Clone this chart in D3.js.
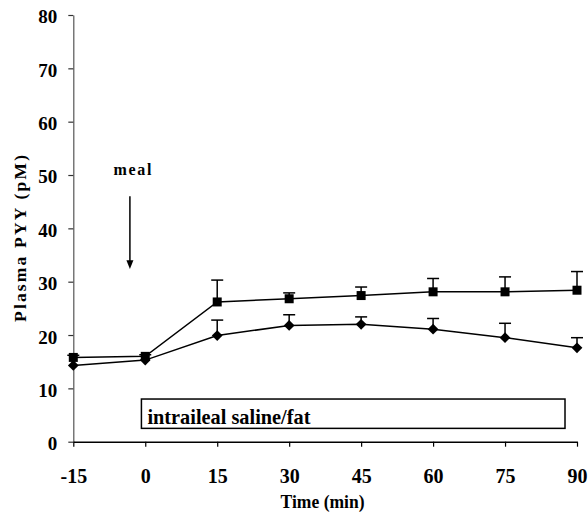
<!DOCTYPE html>
<html>
<head>
<meta charset="utf-8">
<script src="https://cdn.jsdelivr.net/npm/d3@7"></script>
<style>
  html, body { margin: 0; padding: 0; background: #fff; }
  svg { display: block; }
</style>
</head>
<body>
<svg id="chart" width="588" height="524" font-family="Liberation Serif" font-weight="bold"></svg>
<script>
// ---- data ----
const times = [-15, 0, 15, 30, 45, 60, 75, 90];
const fatValues = [15.8, 16.0, 26.2, 26.8, 27.4, 28.1, 28.1, 28.4];
const fatErrors = [0.4, 0.3, 4.1, 1.1, 1.6, 2.5, 2.8, 3.5];
const salineValues = [14.3, 15.3, 19.9, 21.8, 22.0, 21.1, 19.5, 17.6];
const salineErrors = [0, 0, 2.9, 2.0, 1.4, 2.0, 2.7, 1.9];
const xTicks = [-15, 0, 15, 30, 45, 60, 75, 90];
const yTicks = [0, 10, 20, 30, 40, 50, 60, 70, 80];
const mealTime = -3.2;
const infusionStart = -0.8;
const infusionEnd = 87.5;
const infusionBottom = 2.5;
const infusionTop = 8.0;

const FONT = "Liberation Serif";
const svg = d3.select("#chart");
const x = d3.scaleLinear().domain([-15, 90]).range([73.3, 577]);
const y = d3.scaleLinear().domain([0, 80]).range([441.7, 15]);

function styleText(sel) {
  sel.attr("font-family", FONT).attr("font-weight", "bold").attr("fill", "#000")
    .style("font-family", FONT).style("font-weight", "bold");
}

// y axis
const yAxis = svg.append("g").attr("transform", `translate(${x(-15)},0)`)
  .call(d3.axisLeft(y).tickValues(yTicks).tickSize(5).tickPadding(11).tickSizeOuter(0).tickFormat(d => String(d)));
yAxis.attr("font-family", FONT);
yAxis.select(".domain").attr("stroke", "#555").attr("stroke-width", 1.2);
yAxis.selectAll(".tick line").attr("stroke", "#333").attr("stroke-width", 1.2);
yAxis.selectAll(".tick text").attr("font-size", 19).attr("dy", "0.42em").call(styleText);

// x axis
const xAxis = svg.append("g").attr("transform", `translate(0,${y(0)})`)
  .call(d3.axisBottom(x).tickValues(xTicks).tickSize(5).tickPadding(22.5).tickSizeOuter(0).tickFormat(d => String(d)));
xAxis.attr("font-family", FONT);
xAxis.select(".domain").attr("stroke", "#000").attr("stroke-width", 1.5);
xAxis.selectAll(".tick line").attr("stroke", "#000").attr("stroke-width", 1.2);
xAxis.selectAll(".tick text").attr("font-size", 20).attr("dy", "0.71em").call(styleText);

// axis titles
svg.append("text").attr("x", 322.6).attr("y", 508).attr("text-anchor", "middle")
  .attr("font-size", 18).attr("textLength", 84).attr("lengthAdjust", "spacingAndGlyphs")
  .call(styleText).text("Time (min)");
svg.append("text").attr("transform", "translate(26,238.5) rotate(-90)").attr("text-anchor", "middle")
  .attr("font-size", 17.5).attr("textLength", 167).attr("lengthAdjust", "spacing")
  .call(styleText).text("Plasma PYY (pM)");

// infusion box
svg.append("rect")
  .attr("x", x(infusionStart)).attr("y", y(infusionTop))
  .attr("width", x(infusionEnd) - x(infusionStart)).attr("height", y(infusionBottom) - y(infusionTop))
  .attr("fill", "none").attr("stroke", "#000").attr("stroke-width", 1.5);
svg.append("text").attr("x", x(infusionStart) + 6).attr("y", 424)
  .attr("font-size", 21).attr("textLength", 163).attr("lengthAdjust", "spacingAndGlyphs")
  .call(styleText).text("intraileal saline/fat");

// meal arrow
svg.append("text").attr("x", x(mealTime) + 2.5).attr("y", 175).attr("text-anchor", "middle")
  .attr("font-size", 16).attr("textLength", 38).attr("lengthAdjust", "spacing")
  .call(styleText).text("meal");
svg.append("line").attr("x1", x(mealTime)).attr("x2", x(mealTime)).attr("y1", y(46)).attr("y2", y(33.5))
  .attr("stroke", "#000").attr("stroke-width", 1.5);
svg.append("path")
  .attr("d", `M${x(mealTime) - 3.5},${y(34)} L${x(mealTime) + 3.5},${y(34)} L${x(mealTime)},${y(32.4)} Z`)
  .attr("fill", "#000");

function drawSeries(values, errors, symbolType, size, rotate) {
  const pts = times.map((t, i) => ({ t, v: values[i], e: errors[i] }));
  const g = svg.append("g");
  // error bars (upward only)
  pts.filter(d => d.e > 0).forEach(d => {
    g.append("line").attr("x1", x(d.t)).attr("x2", x(d.t)).attr("y1", y(d.v)).attr("y2", y(d.v + d.e))
      .attr("stroke", "#000").attr("stroke-width", 1.5);
    g.append("line").attr("x1", x(d.t) - 6).attr("x2", x(d.t) + 6).attr("y1", y(d.v + d.e)).attr("y2", y(d.v + d.e))
      .attr("stroke", "#000").attr("stroke-width", 1.5);
  });
  g.append("path").datum(pts)
    .attr("d", d3.line().x(d => x(d.t)).y(d => y(d.v)))
    .attr("fill", "none").attr("stroke", "#000").attr("stroke-width", 1.5);
  g.selectAll(".m").data(pts).join("path")
    .attr("transform", d => `translate(${x(d.t)},${y(d.v)}) rotate(${rotate})`)
    .attr("d", d3.symbol().type(symbolType).size(size))
    .attr("fill", "#000");
}

drawSeries(fatValues, fatErrors, d3.symbolSquare, 81, 0);
drawSeries(salineValues, salineErrors, d3.symbolSquare, 58, 45);
</script>
</body>
</html>
